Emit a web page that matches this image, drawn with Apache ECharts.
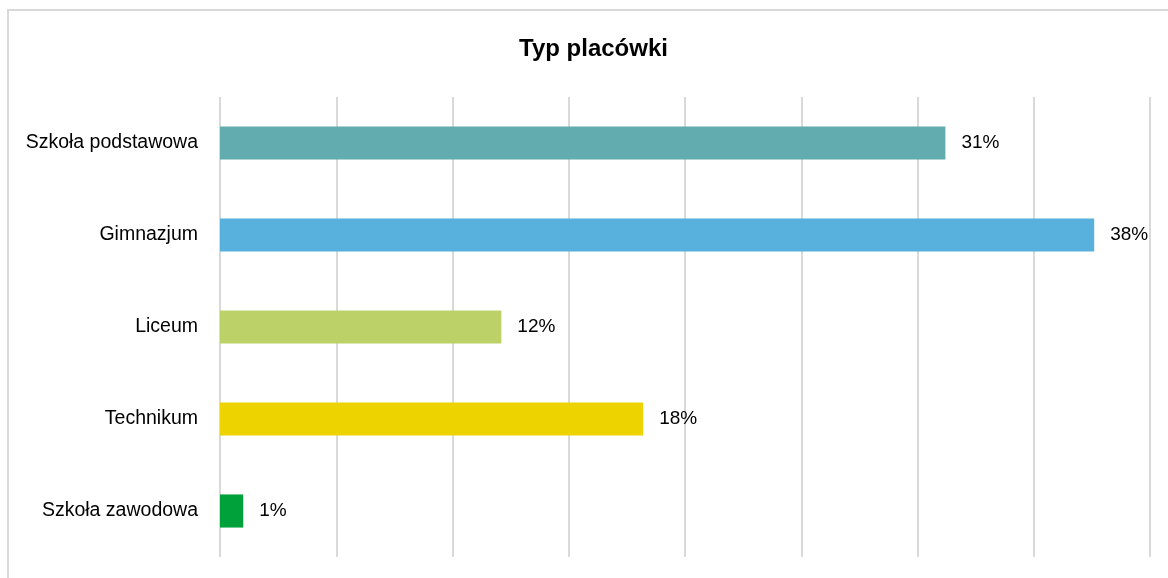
<!DOCTYPE html>
<html>
<head>
<meta charset="utf-8">
<script src="https://cdn.jsdelivr.net/npm/echarts@6/dist/echarts.min.js"></script>
<style>
  html, body { margin: 0; padding: 0; background: #fff; }
  #frame { position: absolute; left: 7px; top: 9px; width: 1170px; height: 580px; border: 2px solid #d9d9d9; box-sizing: border-box; }
  #chart { position: absolute; left: 0; top: 0; width: 1168px; height: 578px; }
</style>
</head>
<body>
<div id="frame"></div>
<div id="chart"></div>
<script>
// kategorie i wartości (%)
const categories = ['Szkoła podstawowa', 'Gimnazjum', 'Liceum', 'Technikum', 'Szkoła zawodowa']
const values = [31.2, 37.6, 12.1, 18.2, 1.0]
const colors = ['#62abaf', '#58b0dc', '#bcd168', '#edd400', '#00a03a']

const chart = echarts.init(document.getElementById('chart'))
const option = {
  animation: false,
  title: {
    text: 'Typ placówki',
    left: 514,
    top: 32,
    textStyle: { fontFamily: 'Liberation Sans', fontWeight: 'bold', fontSize: 24, color: '#000' },
  },
  grid: { left: 220, right: 18, top: 97, bottom: 21, containLabel: false },
  xAxis: {
    type: 'value',
    min: 0,
    max: 40,
    interval: 5,
    axisLabel: { show: false },
    axisLine: { show: false },
    axisTick: { show: false },
    splitLine: { lineStyle: { color: '#d9d9d9', width: 2 } },
  },
  yAxis: {
    type: 'category',
    inverse: true,
    data: categories,
    axisLine: { show: false },
    axisTick: { show: false },
    axisLabel: { margin: 22, fontFamily: 'Liberation Sans', fontSize: 19.5, color: '#000' },
  },
  series: [
    {
      type: 'bar',
      barCategoryGap: '64%',
      data: values.map((v, i) => ({ value: v, itemStyle: { color: colors[i] } })),
      label: {
        show: true,
        position: 'right',
        distance: 16,
        fontFamily: 'Liberation Sans',
        fontSize: 19,
        color: '#000',
        formatter: p => Math.round(p.value) + '%',
      },
    },
  ],
}
chart.setOption(option)
</script>
</body>
</html>
